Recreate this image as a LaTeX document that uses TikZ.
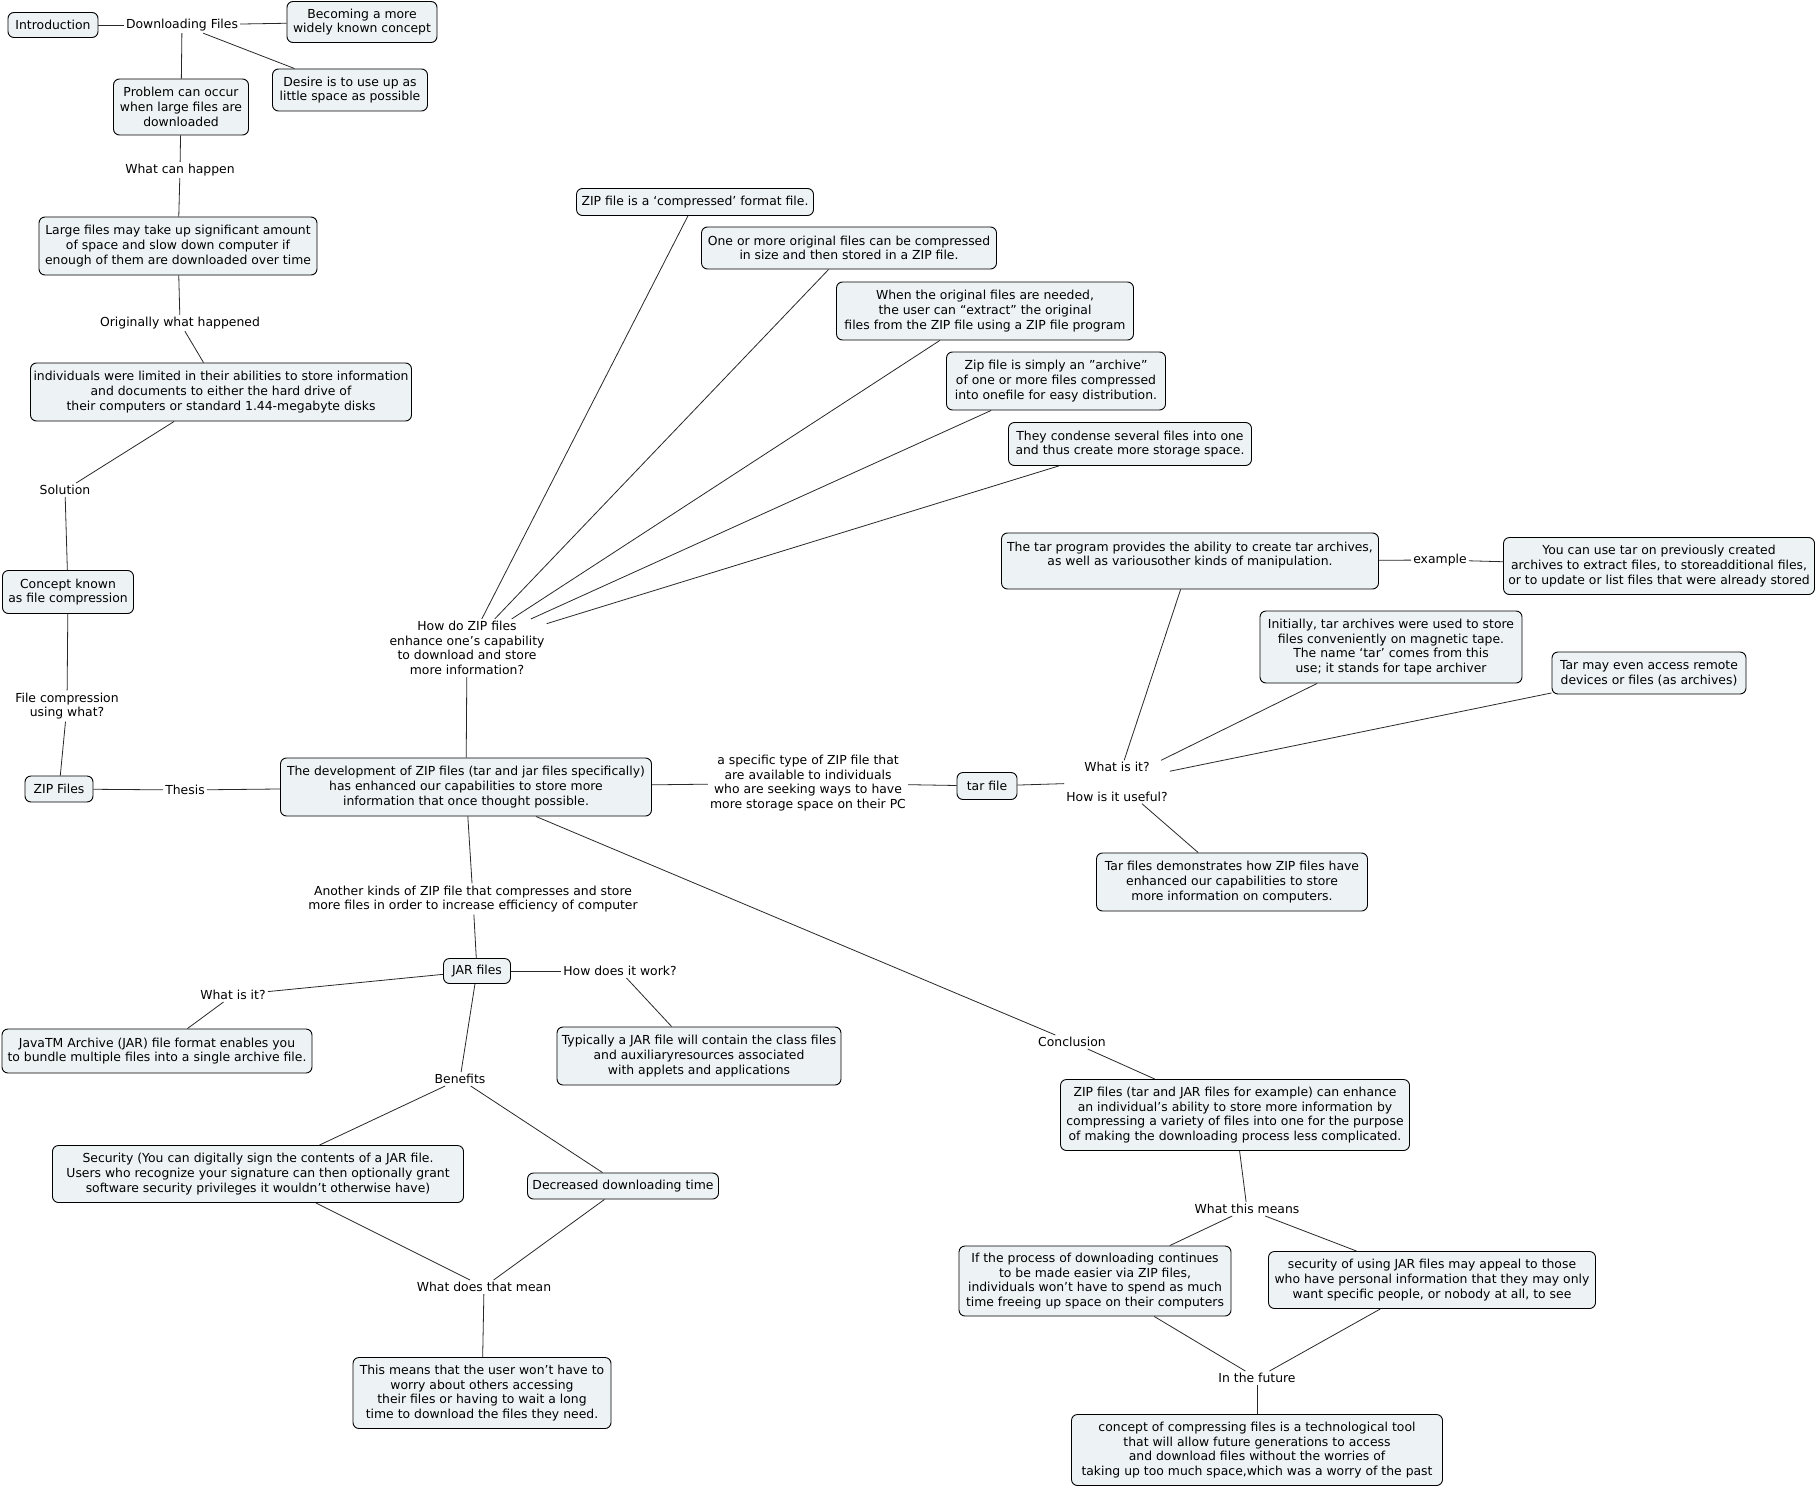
\documentclass[tikz,border=0pt]{standalone}
\usepackage{fontspec}
\setmainfont{DejaVu Sans}
\usepackage{tikz}
\usepackage{xcolor}
\definecolor{cmapfill}{RGB}{237,243,245}
\definecolor{cmapline}{RGB}{40,40,40}

\begin{document}
\begin{tikzpicture}[
    x=1pt,y=-1pt,
    font=\fontsize{12.4}{14.7}\selectfont,
    concept/.style={draw=black,line width=0.9pt,rounded corners=6pt,fill=cmapfill,align=center,inner xsep=3pt,inner ysep=2pt},
    wh/.style 2 args={minimum width=#1pt,minimum height=#2pt},
    phrase/.style={align=center,inner sep=2pt},
    link/.style={draw=cmapline,line width=0.8pt}
]
\path[use as bounding box,fill=white] (0,0) rectangle (1817,1490);

\node[concept,wh={90}{25}] (intro) at (53,25) {Introduction};
\node[phrase] (dlfiles) at (182,25) {Downloading Files};
\node[concept,wh={150}{41}] (widely) at (362,22) {Becoming a more\\widely known concept};
\node[concept,wh={155}{42}] (desire) at (350,90) {Desire is to use up as\\little space as possible};
\node[concept,wh={135}{56}] (problem) at (181,107) {Problem can occur\\when large files are\\downloaded};
\node[phrase] (canhappen) at (180,170) {What can happen};
\node[concept,wh={278}{58}] (largefiles) at (178,246) {Large files may take up significant amount\\of space and slow down computer if\\enough of them are downloaded over time};
\node[phrase] (originally) at (180,323) {Originally what happened};
\node[concept,wh={381}{58}] (limited) at (221,392) {individuals were limited in their abilities to store information\\and documents to either the hard drive of\\their computers or standard 1.44-megabyte disks};
\node[phrase] (solution) at (65,490) {Solution};
\node[concept,wh={131}{43}] (known) at (68,592) {Concept known\\as file compression};
\node[phrase] (usingwhat) at (67,706) {File compression\\using what?};
\node[concept,wh={68}{26}] (zipfiles) at (59,789) {ZIP Files};
\node[phrase] (thesis) at (185,790) {Thesis};
\node[concept,wh={371}{58}] (develop) at (466,787) {The development of ZIP files (tar and jar files specifically)\\has enhanced our capabilities to store more\\information that once thought possible.};

\node[phrase] (howzip) at (467,648) {How do ZIP files\\enhance one's capability\\to download and store\\more information?};
\node[concept,wh={237}{27}] (compressed) at (695,202) {ZIP file is a ‘compressed’ format file.};
\node[concept,wh={295}{42}] (original) at (849,248) {One or more original files can be compressed\\in size and then stored in a ZIP file.};
\node[concept,wh={297}{58}] (extract) at (985,311) {When the original files are needed,\\the user can “extract” the original\\files from the ZIP file using a ZIP file program};
\node[concept,wh={219}{58}] (archive) at (1056,381) {Zip file is simply an "archive"\\of one or more files compressed\\into onefile for easy distribution.};
\node[concept,wh={243}{43}] (condense) at (1130,444) {They condense several files into one\\and thus create more storage space.};

\node[phrase] (specific) at (808,783) {a specific type of ZIP file that\\are available to individuals\\who are seeking ways to have\\more storage space on their PC};
\node[concept,wh={60}{27}] (tarfile) at (987,786) {tar file};
\node[phrase] (tarwhat) at (1117,782) {What is it?\\[14.7pt]How is it useful?};
\node[concept,wh={377}{56}] (tarprogram) at (1190,561) {The tar program provides the ability to create tar archives,\\as well as variousother kinds of manipulation.\\\mbox{}};
\node[phrase] (example) at (1440,560) {example};
\node[concept,wh={311}{57}] (previously) at (1659,566) {You can use tar on previously created\\archives to extract files, to storeadditional files,\\or to update or list files that were already stored};
\node[concept,wh={262}{72}] (tape) at (1391,647) {Initially, tar archives were used to store\\files conveniently on magnetic tape.\\The name `tar' comes from this\\use; it stands for tape archiver};
\node[concept,wh={194}{42}] (remote) at (1649,673) {Tar may even access remote\\devices or files (as archives)};
\node[concept,wh={271}{58}] (demonstrates) at (1232,882) {Tar files demonstrates how ZIP files have\\enhanced our capabilities to store\\more information on computers.};

\node[phrase] (another) at (473,899) {Another kinds of ZIP file that compresses and store\\more files in order to increase efficiency of computer};
\node[concept,wh={67}{25}] (jarfiles) at (477,971) {JAR files};
\node[phrase] (jarwhat) at (233,995) {What is it?};
\node[concept,wh={310}{44}] (javatm) at (157,1051) {JavaTM Archive (JAR) file format enables you\\to bundle multiple files into a single archive file.};
\node[phrase] (howwork) at (620,971) {How does it work?};
\node[concept,wh={284}{58}] (typically) at (699,1056) {Typically a JAR file will contain the class files\\and auxiliaryresources associated\\with applets and applications};
\node[phrase] (benefits) at (460,1079) {Benefits};
\node[concept,wh={411}{57}] (security) at (258,1174) {Security (You can digitally sign the contents of a JAR file.\\Users who recognize your signature can then optionally grant\\software security privileges it wouldn't otherwise have)};
\node[concept,wh={191}{26}] (decreased) at (623,1186) {Decreased downloading time};
\node[phrase] (thatmean) at (484,1287) {What does that mean};
\node[concept,wh={258}{71}] (thismeans) at (482,1393) {This means that the user won’t have to\\worry about others accessing\\their files or having to wait a long\\time to download the files they need.};

\node[phrase] (conclusion) at (1072,1042) {Conclusion};
\node[concept,wh={349}{71}] (enhance) at (1235,1115) {ZIP files (tar and JAR files for example) can enhance\\an individual’s ability to store more information by\\compressing a variety of files into one for the purpose\\of making the downloading process less complicated.};
\node[phrase] (whatmeans) at (1247,1209) {What this means};
\node[concept,wh={272}{70}] (easier) at (1095,1281) {If the process of downloading continues\\to be made easier via ZIP files,\\individuals won’t have to spend as much\\time freeing up space on their computers};
\node[concept,wh={327}{57}] (personal) at (1432,1280) {security of using JAR files may appeal to those\\who have personal information that they may only\\want specific people, or nobody at all, to see};
\node[phrase] (future) at (1257,1378) {In the future};
\node[concept,wh={371}{71}] (tool) at (1257,1450) {concept of compressing files is a technological tool\\that will allow future generations to access\\and download files without the worries of\\taking up too much space,which was a worry of the past};

\draw[link] (intro) -- (dlfiles);
\draw[link] (dlfiles) -- (widely);
\draw[link] (dlfiles) -- (desire);
\draw[link] (dlfiles) -- (problem);
\draw[link] (problem) -- (canhappen);
\draw[link] (canhappen) -- (largefiles);
\draw[link] (largefiles) -- (originally);
\draw[link] (originally) -- (limited);
\draw[link] (limited) -- (solution);
\draw[link] (solution) -- (known);
\draw[link] (known) -- (usingwhat);
\draw[link] (usingwhat) -- (zipfiles);
\draw[link] (zipfiles) -- (thesis);
\draw[link] (thesis) -- (develop);
\draw[link] (develop) -- (howzip);
\draw[link] (howzip) -- (compressed);
\draw[link] (howzip) -- (original);
\draw[link] (howzip) -- (extract);
\draw[link] (howzip) -- (archive);
\draw[link] (howzip) -- (condense);
\draw[link] (develop) -- (specific);
\draw[link] (specific) -- (tarfile);
\draw[link] (tarfile) -- (tarwhat);
\draw[link] (tarwhat) -- (tarprogram);
\draw[link] (tarprogram) -- (example);
\draw[link] (example) -- (previously);
\draw[link] (tarwhat) -- (tape);
\draw[link] (tarwhat) -- (remote);
\draw[link] (tarwhat) -- (demonstrates);
\draw[link] (develop) -- (another);
\draw[link] (another) -- (jarfiles);
\draw[link] (jarfiles) -- (jarwhat);
\draw[link] (jarwhat) -- (javatm);
\draw[link] (jarfiles) -- (howwork);
\draw[link] (howwork) -- (typically);
\draw[link] (jarfiles) -- (benefits);
\draw[link] (benefits) -- (security);
\draw[link] (benefits) -- (decreased);
\draw[link] (security) -- (thatmean);
\draw[link] (decreased) -- (thatmean);
\draw[link] (thatmean) -- (thismeans);
\draw[link] (develop) -- (conclusion);
\draw[link] (conclusion) -- (enhance);
\draw[link] (enhance) -- (whatmeans);
\draw[link] (whatmeans) -- (easier);
\draw[link] (whatmeans) -- (personal);
\draw[link] (easier) -- (future);
\draw[link] (personal) -- (future);
\draw[link] (future) -- (tool);
\end{tikzpicture}
\end{document}
